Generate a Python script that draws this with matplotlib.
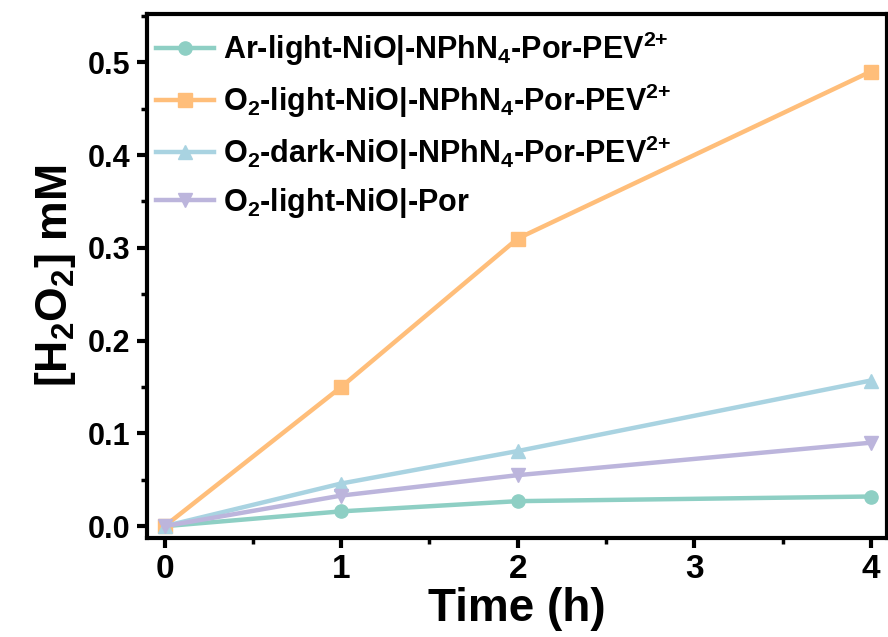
import numpy as np
import matplotlib.pyplot as plt
from matplotlib.ticker import MultipleLocator

plt.rcParams['font.family'] = 'Liberation Sans'
plt.rcParams['font.weight'] = 'bold'
plt.rcParams['mathtext.fontset'] = 'custom'
plt.rcParams['mathtext.rm'] = 'Liberation Sans:bold'
plt.rcParams['mathtext.it'] = 'Liberation Sans:bold'
plt.rcParams['mathtext.bf'] = 'Liberation Sans:bold'
plt.rcParams['mathtext.default'] = 'rm'

# data
time_h = [0, 1, 2, 4]
ar_light = [0, 0.016, 0.027, 0.032]
o2_light = [0, 0.150, 0.310, 0.490]
o2_dark = [0, 0.046, 0.081, 0.157]
o2_por = [0, 0.033, 0.055, 0.090]

labels = ['Ar-light-NiO|-NPhN$_4$-Por-PEV$^{2{+}}$',
          'O$_2$-light-NiO|-NPhN$_4$-Por-PEV$^{2{+}}$',
          'O$_2$-dark-NiO|-NPhN$_4$-Por-PEV$^{2{+}}$',
          'O$_2$-light-NiO|-Por']
colors = ['#8ecfc4', '#ffbe7a', '#a9d3e1', '#bcb5dc']
markers = ['o', 's', '^', 'v']

fig = plt.figure(figsize=(8.88, 6.37), dpi=100)
ax = fig.add_axes([0.1655, 0.155, 0.833, 0.823])

for ys, lab, c, m in zip([ar_light, o2_light, o2_dark, o2_por], labels, colors, markers):
    ax.plot(time_h, ys, color=c, marker=m, markersize=9.5, lw=3.2, label=lab)

ax.set_xlim(-0.1, 4.09)
ax.set_ylim(-0.013, 0.552)
ax.xaxis.set_major_locator(MultipleLocator(1))
ax.xaxis.set_minor_locator(MultipleLocator(0.5))
ax.yaxis.set_major_locator(MultipleLocator(0.1))
ax.yaxis.set_minor_locator(MultipleLocator(0.05))
ax.yaxis.set_major_formatter(plt.FormatStrFormatter('%.1f'))
ax.tick_params(which='major', length=7, width=3)
ax.tick_params(which='minor', length=4, width=2.5)
ax.tick_params(axis='y', labelsize=22, pad=5)
ax.tick_params(axis='x', labelsize=24, pad=4)
for s in ax.spines.values():
    s.set_linewidth(3)

ax.set_xlabel('Time (h)', fontsize=33, fontweight='bold', labelpad=2)
ax.set_ylabel('[H$_2$O$_2$] mM', fontsize=32, fontweight='bold', labelpad=7)

leg = ax.legend(loc='upper left', frameon=False, fontsize=22, handlelength=1.9,
                borderaxespad=0.2, labelspacing=0.45, handletextpad=0.3,
                bbox_to_anchor=(-0.013, 1.005))

fig.savefig('out.png', dpi=100)
